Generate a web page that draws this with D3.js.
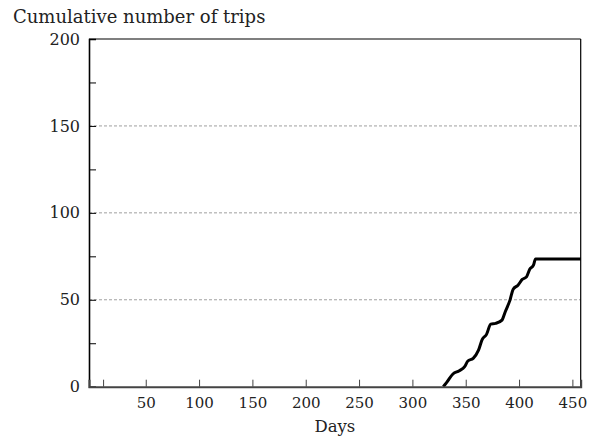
<!DOCTYPE html>
<html><head><meta charset="utf-8">
<script src="https://cdn.jsdelivr.net/npm/d3@7"></script>
<style>body{margin:0;background:#fff}svg{display:block}text{font-family:"DejaVu Serif",serif;fill:#222}</style>
</head><body><svg id="c" width="599" height="440"></svg>
<script>
const days = [329, 332, 338, 344, 349, 352, 357, 362, 365.5, 369.5, 373.5, 378, 384, 387, 391.5, 394.5, 399, 403, 407, 410, 413.5, 415.5, 458];
const trips = [0, 2.3, 7.3, 9.2, 11.5, 14.8, 16.3, 21, 27.2, 30.1, 36, 36.4, 38.3, 43, 49.8, 56.1, 58.4, 61.7, 63.2, 67.5, 69.9, 73.4, 73.4];
const xTicks = [10, 50, 100, 150, 200, 250, 300, 350, 400, 450];
const xLabels = ["", "50", "100", "150", "200", "250", "300", "350", "400", "450"];
const yTicks = [0, 25, 50, 75, 100, 125, 150, 175, 200];
const yLabels = ["0", "", "50", "", "100", "", "150", "", "200"];
const gridVals = [50, 100, 150];
const yTitle = "Cumulative number of trips";
const xTitle = "Days";

const svg = d3.select("#c");
const L = 89, R = 580.7, T = 39, B = 386.7;
const x = d3.scaleLinear().domain([-3.2, 457.8]).range([L, R]);
const y = d3.scaleLinear().domain([0, 200]).range([B, T]);

// grid
svg.selectAll("line.grid").data(gridVals).join("line")
  .attr("x1", L).attr("x2", R).attr("y1", d => y(d)).attr("y2", d => y(d))
  .attr("stroke", "#888").attr("stroke-width", 0.8).attr("stroke-dasharray", "3,2");

// frame top/right
svg.append("line").attr("x1", L).attr("x2", R).attr("y1", T).attr("y2", T).attr("stroke", "#000").attr("stroke-width", 1.2);
svg.append("line").attr("x1", R).attr("x2", R).attr("y1", T).attr("y2", B).attr("stroke", "#000").attr("stroke-width", 1.2);

// line
const pts = days.map((d, i) => [d, trips[i]]);
svg.append("path").datum(pts)
  .attr("fill", "none").attr("stroke", "#000").attr("stroke-width", 3).attr("stroke-linejoin", "round")
  .attr("d", d3.line().x(d => x(d[0])).y(d => y(d[1])).curve(d3.curveMonotoneX));

// y axis
const ya = d3.axisLeft(y).tickValues(yTicks).tickSize(-7).tickPadding(9)
  .tickFormat((d, i) => yLabels[i]);
const gy = svg.append("g").attr("transform", `translate(${L},0)`).call(ya);
gy.select(".domain").attr("stroke", "#000").attr("stroke-width", 1.6);
gy.selectAll(".tick line").attr("stroke", "#000");
gy.selectAll("text").style("font-size", "16px").attr("fill", "#222");

// x axis
const xa = d3.axisBottom(x).tickValues(xTicks).tickSize(-7).tickPadding(11)
  .tickFormat((d, i) => xLabels[i]);
const gx = svg.append("g").attr("transform", `translate(0,${B})`).call(xa);
gx.select(".domain").attr("stroke", "#444").attr("stroke-width", 2);
gx.selectAll(".tick line").attr("stroke", "#444");
gx.selectAll("text").style("font-size", "15px").attr("fill", "#222");

// titles
svg.append("text").attr("x", 13).attr("y", 23).style("font-size", "18px").text(yTitle);
svg.append("text").attr("x", (L + R) / 2).attr("y", 432).attr("text-anchor", "middle").style("font-size", "16.5px").text(xTitle);
</script></body></html>
